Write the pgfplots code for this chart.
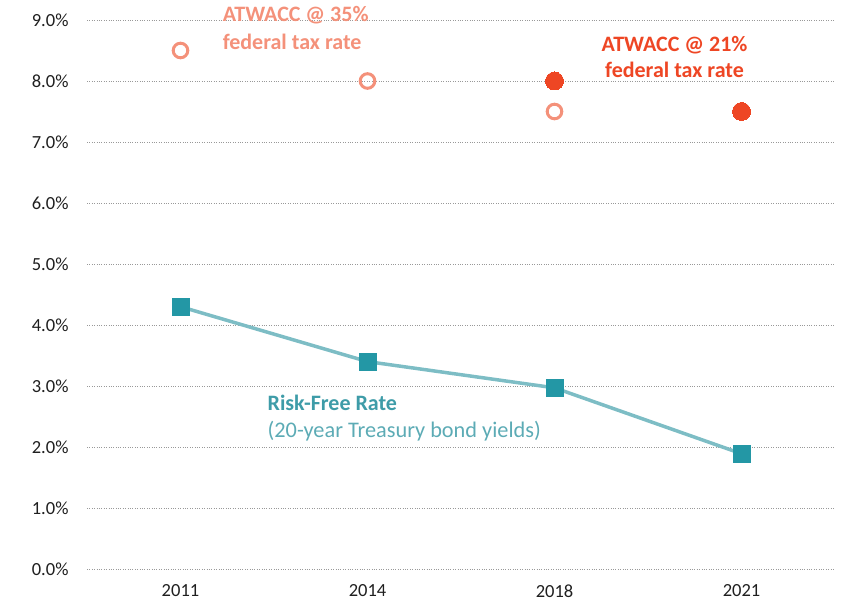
\documentclass[border=0pt]{standalone}
\usepackage{fontspec}
\setmainfont{Carlito}
\usepackage{pgfplots}
\pgfplotsset{compat=1.18}
\definecolor{salmon}{HTML}{F4917A}
\definecolor{redor}{HTML}{EE4624}
\definecolor{tealmark}{HTML}{2397A5}
\definecolor{tealline}{HTML}{7DBDC5}
\definecolor{tealtext}{HTML}{3E9CA8}
\definecolor{tealtext2}{HTML}{5CABB5}
\begin{document}
\begin{tikzpicture}
\begin{axis}[
 width=748bp, height=549bp, scale only axis,
 xmin=-0.5, xmax=3.5, ymin=0, ymax=9,
 xtick={0,1,2,3}, xticklabels={2011,2014,2018,2021},
 ytick={0,1,...,9},
 yticklabel={\pgfmathprintnumber[fixed,fixed zerofill,precision=1]{\tick}\%},
 /pgf/number format/assume math mode=true,
 ymajorgrids, major grid style={dotted, black!40, line width=0.8bp},
 axis line style={draw=none}, major tick length=0pt,
 tick label style={font=\fontsize{18.5bp}{22bp}\selectfont, color=black!88},
 yticklabel style={xshift=-15bp},
 xticklabel style={yshift=-12bp},
 clip=false,
]
\addplot[color=tealline, line width=3.5bp, mark=square*, mark size=8.5bp,
  mark options={fill=tealmark, draw=tealmark, line width=0pt}]
  coordinates {(0,4.3)(1,3.4)(2,2.97)(3,1.89)};
\addplot[only marks, mark=o, mark size=7.3bp, mark options={draw=salmon, line width=3bp}]
  coordinates {(0,8.5)(1,8.0)(2,7.5)(3,7.5)};
\addplot[only marks, mark=*, mark size=9bp, mark options={fill=redor, draw=redor, line width=0pt}]
  coordinates {(2,8.0)(3,7.5)};
\node[anchor=west, inner sep=0pt, text=salmon, font=\fontsize{22bp}{26bp}\selectfont\bfseries] at (axis cs:0.225,9.08) {ATWACC @ 35\%};
\node[anchor=west, inner sep=0pt, text=salmon, font=\fontsize{22bp}{26bp}\selectfont\bfseries] at (axis cs:0.225,8.64) {federal tax rate};
\node[anchor=center, inner sep=0pt, text=redor, font=\fontsize{22bp}{26bp}\selectfont\bfseries] at (axis cs:2.642,8.59) {ATWACC @ 21\%};
\node[anchor=center, inner sep=0pt, text=redor, font=\fontsize{22bp}{26bp}\selectfont\bfseries] at (axis cs:2.642,8.18) {federal tax rate};
\node[anchor=west, inner sep=0pt, text=tealtext, font=\fontsize{22bp}{26bp}\selectfont\bfseries] at (axis cs:0.465,2.72) {Risk-Free Rate};
\node[anchor=west, inner sep=0pt, text=tealtext2, font=\fontsize{22.3bp}{26bp}\selectfont] at (axis cs:0.465,2.26) {(20-year Treasury bond yields)};
\end{axis}
\pgfresetboundingbox
\path (current axis.south west) ++(-87bp,-33bp) coordinate (BL);
\path (current axis.north east) ++(9bp,20bp) coordinate (TR);
\path (BL) rectangle (TR);
\end{tikzpicture}
\end{document}
